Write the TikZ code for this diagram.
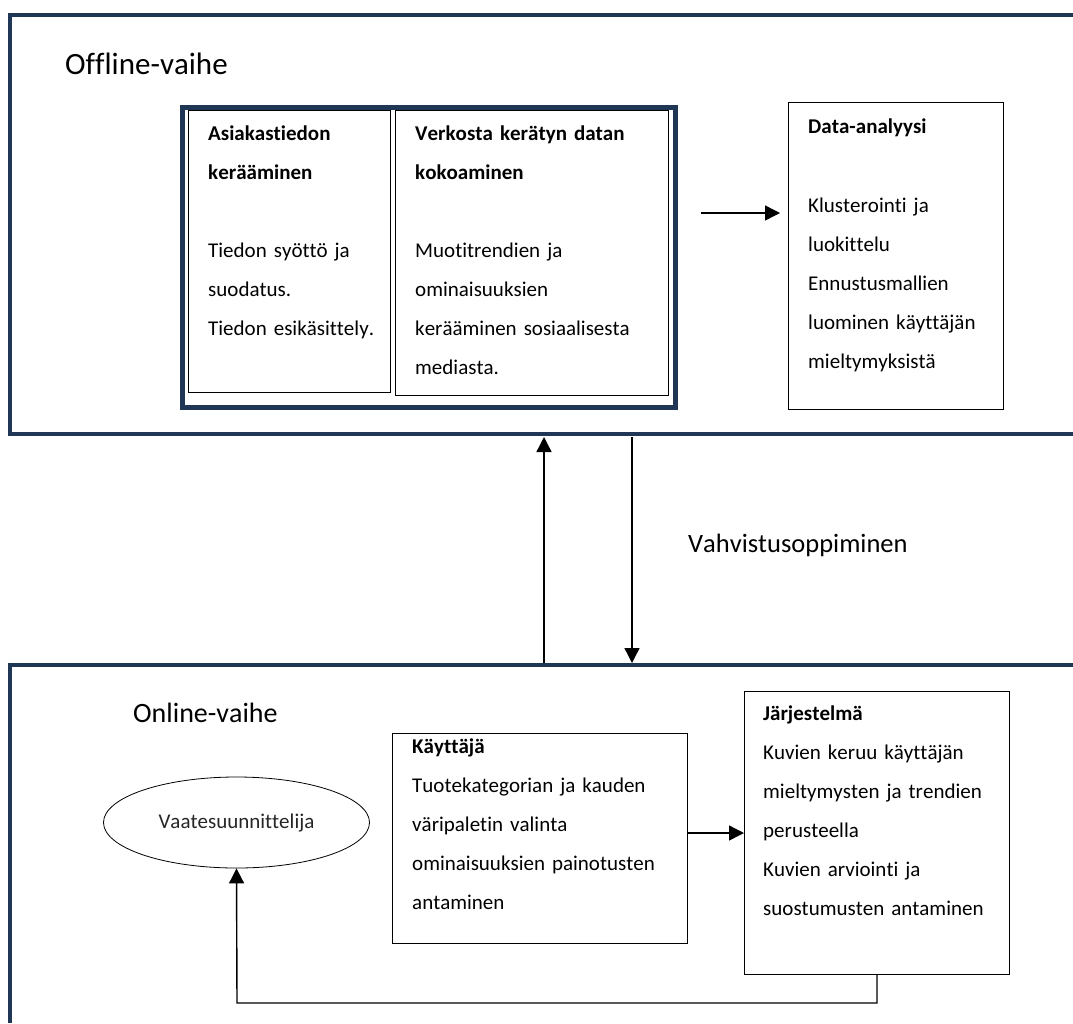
\documentclass[tikz,border=0pt]{standalone}
\usepackage{fontspec}
\setmainfont{Carlito}[Kerning=Off, Ligatures=NoCommon]
\usetikzlibrary{arrows.meta,shapes.geometric}
\definecolor{navy}{RGB}{31,55,85}
\tikzset{
  frame/.style={draw=navy, line width=4.5pt},
  thinbox/.style={draw=black, line width=1pt, inner sep=0pt, anchor=north west},
  txt/.style={anchor=base west, inner sep=0pt, text width=300pt, align=left, font=\fontsize{21}{39}\selectfont},
  arr/.style={line width=1.4pt, -{Triangle[length=15pt,width=15pt]}},
  lin/.style={line width=1.3pt}
}
\begin{document}
\begin{tikzpicture}[x=1pt,y=-1pt]
\useasboundingbox (0,0) rectangle (1073,1023);
% frames
\draw[frame] (1073,15) -- (10,15) -- (10,434) -- (1073,434);
\draw[frame] (1073,665) -- (10,665) -- (10,1023);
\node[anchor=base west, inner sep=0pt, font=\fontsize{31}{36}\selectfont] (offl) at (65,74) {Offline-vaihe};
\node[anchor=base west, inner sep=0pt, font=\fontsize{28}{34}\selectfont] (onl) at (133,722) {Online-vaihe};
% offline boxes
\node[draw=navy, line width=4.5pt, inner sep=0pt, anchor=north west, minimum width=493pt, minimum height=300pt] (collect) at (180,105) {};
\node[thinbox, minimum width=202pt, minimum height=282pt] (asia) at (188,110) {};
\node[thinbox, minimum width=273pt, minimum height=285pt] (verk) at (395,110) {};
\node[thinbox, minimum width=215pt, minimum height=307pt] (data) at (788,102) {};
\node[txt] (asiaT) at (208,140) {\textbf{Asiakastiedon}\\\textbf{kerääminen}\\[39pt]Tiedon syöttö ja\\suodatus.\\Tiedon esikäsittely.};
\node[txt] (verkT) at (415,140) {\textbf{Verkosta kerätyn datan}\\\textbf{kokoaminen}\\[39pt]Muotitrendien ja\\ominaisuuksien\\kerääminen sosiaalisesta\\mediasta.};
\node[txt] (dataT) at (808,133) {\textbf{Data-analyysi}\\[40pt]Klusterointi ja\\luokittelu\\Ennustusmallien\\luominen käyttäjän\\mieltymyksistä};
\coordinate (a1) at (701,213);
\coordinate (a2) at (780,213);
\draw[arr] (a1) -- (a2);
% between
\coordinate (upS) at (544,663);
\coordinate (upE) at (544,437);
\coordinate (dnS) at (632,437);
\coordinate (dnE) at (632,663);
\draw[arr] (upS) -- (upE);
\draw[arr] (dnS) -- (dnE);
\node[anchor=base west, inner sep=0pt, font=\fontsize{26.5}{32}\selectfont] (vahv) at (688,552) {Vahvistusoppiminen};
% online
\node[draw=black, line width=0.8pt, ellipse, minimum width=266pt, minimum height=91pt, inner sep=0pt, font=\fontsize{21}{24}\selectfont, text=black!85] (vaate) at (236.5,822.5) {Vaatesuunnittelija};
\node[thinbox, minimum width=295pt, minimum height=210pt] (kayt) at (392,733) {};
\node[thinbox, minimum width=265pt, minimum height=283pt] (jarj) at (744,691) {};
\node[txt] (kaytT) at (412,753) {\textbf{Käyttäjä}\\Tuotekategorian ja kauden\\väripaletin valinta\\ominaisuuksien painotusten\\antaminen};
\node[txt] (jarjT) at (763,720) {\textbf{Järjestelmä}\\Kuvien keruu käyttäjän\\mieltymysten ja trendien\\perusteella\\Kuvien arviointi ja\\suostumusten antaminen};
\draw[arr] (kayt.east |- 0,833) -- (jarj.west |- 0,833);
\draw[arr] (jarj.south -| 877,0) -- (877,1003) -- (237,1003) -- (vaate.south);
\end{tikzpicture}
\end{document}
